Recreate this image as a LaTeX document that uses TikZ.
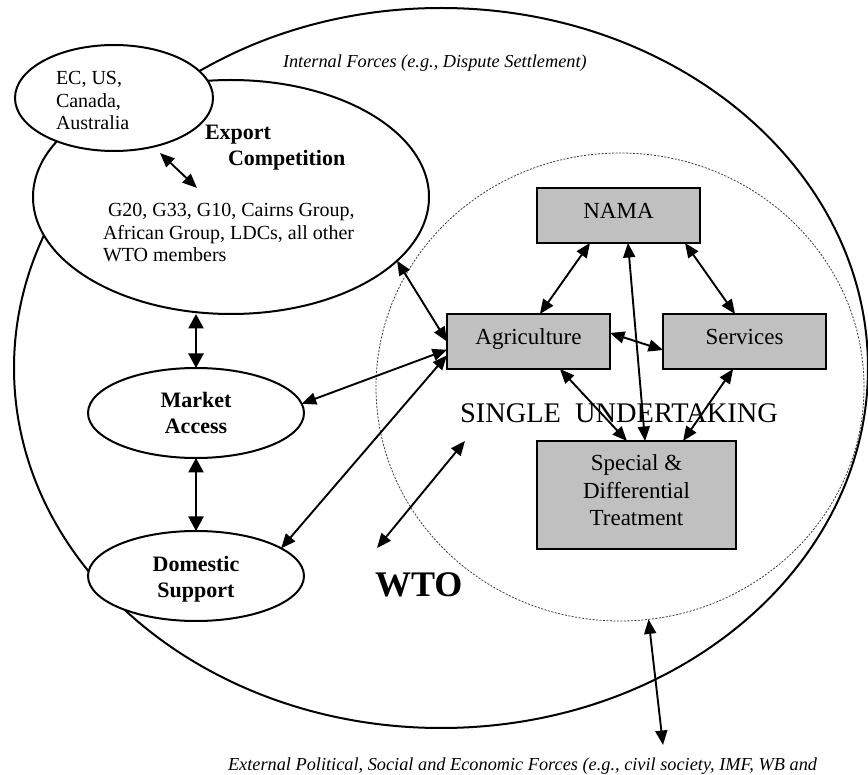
\documentclass[tikz,border=0pt]{standalone}
\usepackage{fontspec}
\setmainfont{Liberation Serif}
\usetikzlibrary{shapes.geometric,arrows.meta,calc}
\definecolor{boxgray}{RGB}{192,192,192}
\definecolor{dotgray}{RGB}{60,60,60}
\newcommand\mylines[2]{\begin{tabular}[t]{@{}#1@{}}#2\end{tabular}}
\begin{document}
\begin{tikzpicture}[x=1pt,y=-1pt,
  every node/.style={inner sep=0pt, outer sep=0pt},
  oval/.style={ellipse, draw, line width=2pt, fill=white},
  boxn/.style={rectangle, draw, line width=2pt, fill=boxgray,
    font=\fontsize{23}{27.5}\selectfont, text height=14pt, text depth=7pt},
  conn/.style={line width=1.9pt, {Triangle[length=14.5pt,width=12pt]}-{Triangle[length=14.5pt,width=12pt]}},
  connb/.style={line width=2.4pt, {Triangle[length=14.5pt,width=15pt]}-{Triangle[length=14.5pt,width=15pt]}},
  txt/.style={anchor=base west, font=\fontsize{20}{22.5}\selectfont},
  bold/.style={anchor=base, font=\fontsize{22}{26}\selectfont\bfseries},
  note/.style={anchor=base west, font=\fontsize{18.3}{22}\selectfont\itshape}]
\useasboundingbox (0,0) rectangle (868,775);
\fill[white] (0,0) rectangle (868,775);

% outer WTO ellipse and single undertaking circle
\node[ellipse, draw, line width=2pt, minimum width=854pt, minimum height=720pt] (wto) at (441,368) {};
\node[ellipse, draw=dotgray, line width=0.8pt, dash pattern=on 2pt off 1.5pt,
      minimum width=488pt, minimum height=468pt] (su) at (620,387) {};

% pillar ellipses
\node[oval, minimum width=396pt, minimum height=234pt] (ex) at (231,197) {};
\node[oval, minimum width=198pt, minimum height=106pt] (ec) at (114,98) {};
\node[oval, minimum width=216pt, minimum height=90pt] (ma) at (196,413) {};
\node[oval, minimum width=216pt, minimum height=90pt] (ds) at (196,576) {};

% texts in ellipses
\node[txt] (ectxt) at (56,85) {\mylines{l}{EC, US,\\Canada,\\Australia}};
\node[bold, anchor=base west] (extxt) at (205,140) {\mylines{l}{Export\\\hspace{23pt}Competition}};
\node[txt] (g20) at (103,217) {\mylines{l}{\hspace{5pt}G20, G33, G10, Cairns Group,\\African Group, LDCs, all other\\WTO members}};
\node[bold] (matxt) at (196,408) {\mylines{c}{Market\\Access}};
\node[bold] (dstxt) at (196,571) {\mylines{c}{Domestic\\Support}};

% boxes
\node[boxn, minimum width=163pt, minimum height=55pt] (nama) at (618.5,215.5) {NAMA};
\node[boxn, minimum width=163pt, minimum height=55pt] (agri) at (528.5,341.5) {Agriculture};
\node[boxn, minimum width=163pt, minimum height=55pt] (serv) at (744.5,341.5) {Services};
\node[rectangle, draw, line width=2pt, fill=boxgray, minimum width=199pt, minimum height=108pt] (sdt) at (636.5,495) {};
\node[anchor=base, font=\fontsize{23}{27.5}\selectfont] (sdttxt) at (636.5,471) {\mylines{c}{Special \&\\Differential\\Treatment}};

% free texts
\node[anchor=base west, font=\fontsize{28.4}{32}\selectfont] (sutxt) at (460,423) {SINGLE\ \ UNDERTAKING};
\node[anchor=base west, font=\fontsize{36}{40}\selectfont\bfseries] (wtotxt) at (375,596) {WTO};
\node[note] (internal) at (283,68) {Internal Forces (e.g., Dispute Settlement)};
\node[note] (external) at (228,770) {External Political, Social and Economic Forces (e.g., civil society, IMF, WB and};

% free ends
\coordinate (ecA) at (160,153);
\coordinate (ecB) at (197,188);
\coordinate (wtoA) at (377,548);
\coordinate (wtoB) at (465,441);
\coordinate (extB) at (663,745);

% connectors
\draw[conn] (ecA) -- (ecB);
\draw[connb] (ma.north |- ex.south) -- (ma.north);
\draw[connb] (ma.south) -- (ds.north);
\draw[conn] (ex.-21.6) -- ($(agri.north west)!0.5!(agri.south west)$);
\draw[conn] (ma.5) -- ($(agri.north west)!0.65!(agri.south west)$);
\draw[conn] (ds.18) -- ($(agri.north west)!0.75!(agri.south west)$);
\draw[conn] (wtoA) -- (wtoB);
\draw[conn] ($(nama.south west)!0.325!(nama.south east)$) -- ($(agri.north west)!0.57!(agri.north east)$);
\draw[conn] ($(nama.south west)!0.908!(nama.south east)$) -- ($(serv.north west)!0.442!(serv.north east)$);
\draw[conn] ($(nama.south west)!0.558!(nama.south east)$) -- ($(sdt.north west)!0.543!(sdt.north east)$);
\draw[conn] ($(agri.north east)!0.345!(agri.south east)$) -- ($(serv.north west)!0.655!(serv.south west)$);
\draw[conn] ($(agri.south west)!0.693!(agri.south east)$) -- ($(sdt.north west)!0.452!(sdt.north east)$);
\draw[conn] ($(serv.south west)!0.43!(serv.south east)$) -- ($(sdt.north west)!0.734!(sdt.north east)$);
\draw[conn] (su.-83) -- (extB);
\end{tikzpicture}
\end{document}
